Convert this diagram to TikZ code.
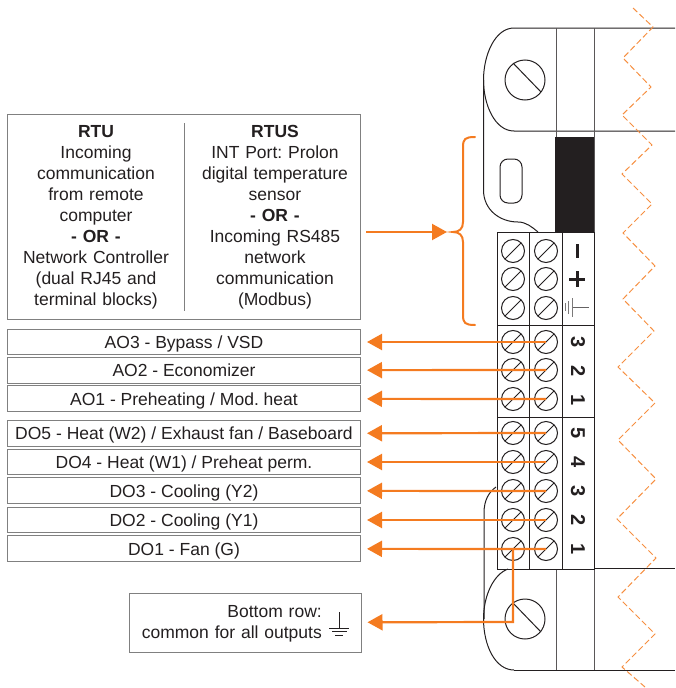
\documentclass[tikz,border=0pt]{standalone}
\usepackage{fontspec}
\setmainfont{Liberation Sans}
\usetikzlibrary{arrows.meta}
\definecolor{wireorange}{HTML}{F47B20}
\definecolor{boxgray}{HTML}{808080}
\definecolor{inkblack}{HTML}{231F20}
\frenchspacing
\tikzset{labelbox/.style={draw=boxgray,line width=1pt,minimum width=353pt,minimum height=25.5pt,inner sep=0pt,text height=13pt,text depth=0.4pt,font=\fontsize{17.5}{21}\selectfont,text=inkblack},
	coltext/.style={align=center,text width=172pt,inner sep=0pt,font=\fontsize{17.5}{21}\selectfont,text=inkblack},
	screw/.style={shape=circle,draw=inkblack,line width=1pt,minimum size=23pt,inner sep=0pt,
		path picture={\draw[inkblack,line width=1pt] ([shift={(3.4,-3.4)}]path picture bounding box.south west) -- ([shift={(-3.4,3.4)}]path picture bounding box.north east);}},
	bigscrew/.style={shape=circle,draw=inkblack,line width=1pt,minimum size=40pt,inner sep=0pt},
	digit/.style={rotate=-90,inner sep=0pt,text=inkblack,font=\fontsize{20}{20}\selectfont\bfseries},
	wire/.style={color=wireorange,line width=2.2pt,-{Triangle[length=15pt,width=16pt]}},
	body/.style={draw=inkblack,line width=1pt},
	zigzag/.style={draw=wireorange!85,line width=1pt,dash pattern=on 6pt off 3pt}}
\begin{document}
\begin{tikzpicture}[x=1pt,y=-1pt]
	\useasboundingbox (0,0) rectangle (675,688);

	% housing
	\draw[body] (675,28) -- (514,28) .. controls (495,28) and (483.5,55) .. (483.5,80)
		.. controls (483.5,105) and (495,131) .. (514,131) -- (675,131);
	\draw[body] (483.5,80) -- (483.5,190) .. controls (483.5,210) and (500,222) .. (518,222)
		.. controls (526,222) and (532,227) .. (538,232);
	\draw[body] (514,670) -- (675,670);
	\draw[body] (508,569) .. controls (494,574) and (483.5,595) .. (483.5,619)
		.. controls (483.5,645) and (495,670) .. (514,670);
	\draw[body] (496,487) .. controls (489,492) and (484,500) .. (484,513) -- (484,619);
	\draw[body] (594,568) -- (675,568);
	\draw[body,draw=inkblack!75] (556,28) -- (556,137);
	\draw[body,draw=inkblack!75] (594,28) -- (594,569);
	\draw[body,draw=inkblack!75] (556,569) -- (556,670);
	\draw[body,draw=inkblack!75] (594,569) -- (594,670);
	\draw[body,draw=boxgray!60] (556,137) -- (594,137);
	\fill[inkblack] (555,137) rectangle (594,232);
	\draw[body,rounded corners=8pt] (500,159) rectangle (522,203);

	% terminal block
	\draw[body] (497,232) rectangle (594,569);
	\draw[body] (497,325) -- (594,325);
	\draw[body] (497,417) -- (594,417);
	\draw[body] (529.5,232) -- (529.5,569);
	\draw[body] (562,232) -- (562,569);

	% screws
	\node[bigscrew] (TOPS) at (525,80) {};
	\draw[body] (513,63) -- (541,92);
	\node[bigscrew] (BOTS) at (525,619) {};
	\draw[body] (513,603) -- (541,632);

	\node[screw] (A1) at (513,251) {};
	\node[screw] (A2) at (513,279) {};
	\node[screw] (A3) at (513,308) {};
	\node[screw] (B1) at (546,251) {};
	\node[screw] (B2) at (546,279) {};
	\node[screw] (B3) at (546,308) {};
	\node[screw] (A4) at (513,342) {};
	\node[screw] (A5) at (513,370) {};
	\node[screw] (A6) at (513,399) {};
	\node[screw] (A7) at (513,433) {};
	\node[screw] (A8) at (513,462) {};
	\node[screw] (A9) at (513,491) {};
	\node[screw] (A10) at (513,520) {};
	\node[screw] (A11) at (513,549) {};
	\node[screw] (B4) at (546,342) {};
	\node[screw] (B5) at (546,370) {};
	\node[screw] (B6) at (546,399) {};
	\node[screw] (B7) at (546,433) {};
	\node[screw] (B8) at (546,462) {};
	\node[screw] (B9) at (546,491) {};
	\node[screw] (B10) at (546,520) {};
	\node[screw] (B11) at (546,549) {};

	% terminal marks
	\fill[inkblack] (575.5,244) rectangle (578.5,258);
	\fill[inkblack] (569,277.5) rectangle (585,280.5);
	\fill[inkblack] (575.5,271) rectangle (578.5,287);
	\draw[inkblack!70,line width=0.8pt] (572,307) -- (589,307);
	\draw[inkblack!60,line width=1pt] (572,298) -- (572,317);
	\draw[inkblack!60,line width=1pt] (568.5,301) -- (568.5,314);
	\draw[inkblack!60,line width=1pt] (565.5,303) -- (565.5,311);
	\node[digit] (D3a) at (578,342) {3};
	\node[digit] (D2a) at (578,371) {2};
	\node[digit] (D1a) at (578,400) {1};
	\node[digit] (D5) at (578,433) {5};
	\node[digit] (D4) at (578,462) {4};
	\node[digit] (D3) at (578,491) {3};
	\node[digit] (D2) at (578,520) {2};
	\node[digit] (D1) at (578,549) {1};

	% text boxes
	\node[labelbox,minimum height=205pt] (COMM) at (184,216.5) {};
	\draw[boxgray,line width=1pt] (184,123) -- (184,311);
	\node[coltext] (RTU) at (96,217.7) {\textbf{RTU}\\Incoming\\communication\\from remote\\computer\\\textbf{- OR -}\\Network Controller\\(dual RJ45 and\\terminal blocks)};
	\node[coltext] (RTUS) at (275,217.7) {\textbf{RTUS}\\INT Port: Prolon\\digital temperature\\sensor\\\textbf{- OR -}\\Incoming RS485\\network\\communication\\(Modbus)};
	\node[labelbox] (AO3) at (184,342) {AO3 - Bypass / VSD};
	\node[labelbox] (AO2) at (184,370.3) {AO2 - Economizer};
	\node[labelbox] (AO1) at (184,398.7) {AO1 - Preheating / Mod. heat};
	\node[labelbox] (DO5) at (184,433.5) {DO5 - Heat (W2) / Exhaust fan / Baseboard};
	\node[labelbox] (DO4) at (184,462) {DO4 - Heat (W1) / Preheat perm.};
	\node[labelbox] (DO3) at (184,490.7) {DO3 - Cooling (Y2)};
	\node[labelbox] (DO2) at (184,520) {DO2 - Cooling (Y1)};
	\node[labelbox] (DO1) at (184,548.7) {DO1 - Fan (G)};
	\node[labelbox,minimum width=232pt,minimum height=59pt] (COMMON) at (245,622.5) {};
	\node[coltext,align=right,text width=190pt,anchor=east] (COMMONT) at (322,623.5) {Bottom row:\\common for all outputs};
	\draw[inkblack,line width=0.7pt] (339,612) -- (339,628);
	\draw[inkblack,line width=0.7pt] (329,628) -- (349,628);
	\draw[inkblack,line width=0.7pt] (332,631.5) -- (347,631.5);
	\draw[inkblack,line width=0.7pt] (335,635) -- (343,635);

	% zigzag break line
	\draw[zigzag] (633,8) -- (653,27) -- (623,58) -- (651,87) -- (622,115) -- (652,145) -- (622,174)
		-- (652,204) -- (623,233) -- (655,266) -- (623,299) -- (654,331) -- (618,367) -- (655,403)
		-- (618,440) -- (656,479) -- (617,519) -- (656,558) -- (618,597) -- (655,634) -- (622,667) -- (645,687);

	% brace
	\draw[wireorange,line width=2pt,line cap=round] (475,137) .. controls (465,137) and (463,139) .. (463,147)
		-- (463,222) .. controls (463,229) and (459,232) .. (453,232)
		.. controls (459,232) and (463,235) .. (463,242) -- (463,315)
		.. controls (463,323) and (465,325) .. (475,325);

	% wires
	\coordinate (CSTART) at (366,232);
	\coordinate (BRACE) at (447,232);
	\coordinate (GND) at (513,622);
	\path (CSTART) edge[wire] node {} (BRACE);
	\path (B4.center) edge[wire,shorten >=6pt] node {} (AO3);
	\path (B5.center) edge[wire,shorten >=6pt] node {} (AO2);
	\path (B6.center) edge[wire,shorten >=6pt] node {} (AO1);
	\path (B7.center) edge[wire,shorten >=6pt] node {} (DO5);
	\path (B8.center) edge[wire,shorten >=6pt] node {} (DO4);
	\path (B9.center) edge[wire,shorten >=6pt] node {} (DO3);
	\path (B10.center) edge[wire,shorten >=6pt] node {} (DO2);
	\path (B11.center) edge[wire,shorten >=6pt] node {} (DO1);
	\draw [wire,shorten >=6pt](A11.center) -- (GND) -- (COMMON);
\end{tikzpicture}
\end{document}
